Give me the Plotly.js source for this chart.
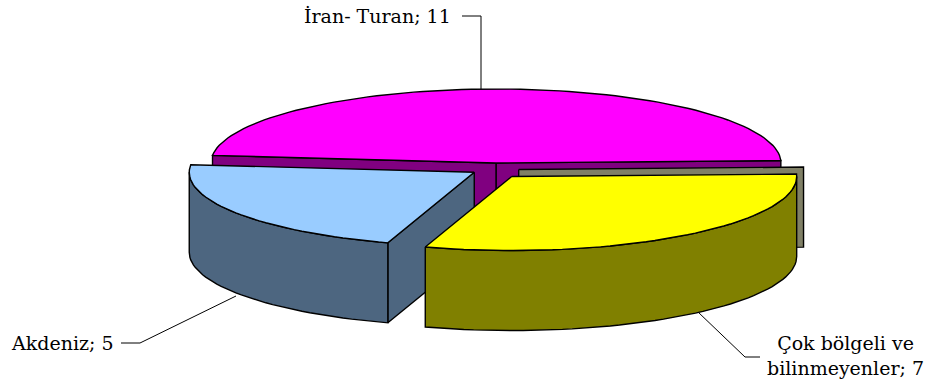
<!DOCTYPE html>
<html>
<head>
<meta charset="utf-8">
<script src="https://cdn.plot.ly/plotly-3.0.1.min.js"></script>
<style>html,body{margin:0;padding:0;background:#fff;}#chart{width:930px;height:392px;}</style>
</head>
<body>
<div id="chart"></div>
<script>
// ---- data (clockwise order around the pie) ----
const categories = ['İran- Turan', 'Çok bölgeli ve<br>bilinmeyenler', 'Akdeniz'];
const values = [11, 7, 5];
const topColors = ['#FF00FF', '#FFFF00', '#99CCFF'];
const sideColors = ['#800080', '#808000', '#4D6680'];
const pulls = [0, 1, 1];

// ---- geometry / style ----
const CX = 496, CY = 163;       // pie centre (axis units = pixels)
const A = 285, B = 74, H = 80;  // ellipse radii and thickness
const EX = 26, EY = 17;         // explode distances
const ROT = -2;                 // small rotation of the start angle
const rad = Math.PI / 180;

const total = values.reduce((s, v) => s + v, 0);
const slices = [];
let cur = 90 + ROT + values[0] / total * 180; // first slice centred at top, then clockwise
values.forEach((v, i) => {
  const sweep = v / total * 360;
  const hi = cur, lo = cur - sweep;
  const mid = (hi + lo) / 2;
  const c = [CX + Math.cos(mid * rad) * EX * pulls[i], CY - Math.sin(mid * rad) * EY * pulls[i]];
  slices.push({hi, lo, mid, c, i});
  cur = lo;
});

function pt(c, t, dy) { return [c[0] + A * Math.cos(t * rad), c[1] - B * Math.sin(t * rad) + (dy || 0)]; }
function arc(c, t1, t2, dy) {
  const n = Math.max(2, Math.ceil(Math.abs(t2 - t1) / 2));
  const out = [];
  for (let k = 0; k <= n; k++) out.push(pt(c, t1 + (t2 - t1) * k / n, dy));
  return out;
}
const traces = [];
function poly(points, color) {
  const xs = points.map(p => p[0]), ys = points.map(p => p[1]);
  xs.push(xs[0]); ys.push(ys[0]);
  traces.push({type: 'scatter', mode: 'lines', x: xs, y: ys, fill: 'toself', fillcolor: color,
    line: {color: '#000', width: 1.4}, hoverinfo: 'skip', showlegend: false});
}
function cutFace(s, t, color, shift) {
  const sh = shift || [0, 0];
  const c = [s.c[0] + sh[0], s.c[1] + sh[1]];
  const p = pt(c, t);
  poly([c, p, [p[0], p[1] + H], [c[0], c[1] + H]], color);
}
function wall(s) {
  const lo = Math.max(s.lo, -180), hi = Math.min(s.hi, 0);
  if (hi <= lo) return;
  const top = arc(s.c, lo, hi, 0), bot = arc(s.c, hi, lo, H);
  poly(top.concat(bot), sideColors[s.i]);
}
function topFace(s) {
  poly([s.c].concat(arc(s.c, s.hi, s.lo, 0)), topColors[s.i]);
}

const [sMag, sYel, sBlu] = slices;
// back slice: its two cut faces and top
cutFace(sMag, sMag.lo, sideColors[0]);
cutFace(sMag, sMag.hi, sideColors[0]);
topFace(sMag);
// back face of the right slice, seen behind it
cutFace(sYel, sYel.hi, '#808066', [7, -7]);
// left exploded slice
cutFace(sBlu, sBlu.hi, sideColors[2]);
wall(sBlu);
topFace(sBlu);
// right exploded slice
wall(sYel);
topFace(sYel);

const font = {family: 'DejaVu Serif', size: 19, color: '#000'};
const lbl = categories.map((c, i) => c + '; ' + values[i]);
const annotations = [
  {x: 453, y: 16, text: lbl[0], xanchor: 'right', yanchor: 'middle'},
  {x: 845, y: 355, text: lbl[1], xanchor: 'center', yanchor: 'middle', align: 'center'},
  {x: 9, y: 343, text: lbl[2], xanchor: 'left', yanchor: 'middle'}
].map(a => Object.assign({xref: 'x', yref: 'y', showarrow: false, font: font}, a));

const ln = {color: '#000', width: 1};
const shapes = [
  {type: 'path', path: 'M462,16 L481,16 L481,89', line: ln},
  {type: 'path', path: 'M121,343 L140,343 L236,296', line: ln},
  {type: 'path', path: 'M760,357 L745,357 L698,312', line: ln}
].map(s => Object.assign({xref: 'x', yref: 'y'}, s));

const layout = {
  width: 930, height: 392,
  margin: {l: 0, r: 0, t: 0, b: 0},
  paper_bgcolor: '#fff', plot_bgcolor: '#fff',
  xaxis: {range: [0, 930], visible: false, fixedrange: true},
  yaxis: {range: [392, 0], visible: false, fixedrange: true},
  showlegend: false,
  annotations: annotations,
  shapes: shapes
};
Plotly.newPlot('chart', traces, layout, {displayModeBar: false, staticPlot: true});
</script>
</body>
</html>
